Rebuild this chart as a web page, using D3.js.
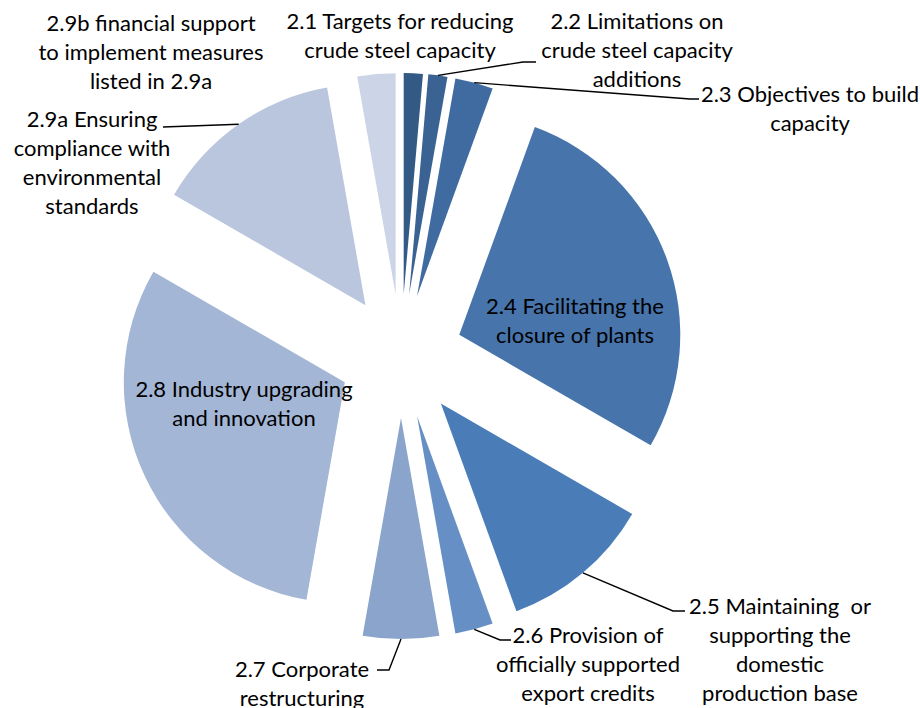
<!DOCTYPE html>
<html>
<head>
<meta charset="utf-8">
<script src="https://cdn.jsdelivr.net/npm/d3@7"></script>
<style>
  body { margin: 0; background: #fff; }
  svg text { font-family: Lato, "Open Sans", sans-serif; fill: #000; }
</style>
</head>
<body>
<div id="chart"></div>
<script>
// data: number of measures per category
var categories = ["2.1", "2.2", "2.3", "2.4", "2.5", "2.6", "2.7", "2.8", "2.9a", "2.9b"];
var counts = [1, 1, 2, 20, 8, 2, 4, 22, 10, 2];
var labelLines = [
    ["2.1 Targets for reducing", "crude steel capacity"],
    ["2.2 Limitations on", "crude steel capacity", "additions"],
    ["2.3 Objectives to build", "capacity"],
    ["2.4 Facilitating the", "closure of plants"],
    ["2.5 Maintaining  or", "supporting the", "domestic", "production base"],
    ["2.6 Provision of", "officially supported", "export credits"],
    ["2.7 Corporate", "restructuring"],
    ["2.8 Industry upgrading", "and innovation"],
    ["2.9a Ensuring", "compliance with", "environmental", "standards"],
    ["2.9b financial support", "to implement measures", "listed in 2.9a"]
];
var colors = ["#335a85", "#3a6293", "#3f6ba1", "#4674ab", "#4a7db8",
              "#6690c5", "#8aa4cc", "#a3b6d6", "#b9c6de", "#ccd5e7"];

// layout of the labels: text centre, and leader elbow/end (null = no leader)
var labelPos = [
    { x: 400, y: 20 },
    { x: 637, y: 20, elbow: [523, 62], end: [536, 62] },
    { x: 810, y: 93, elbow: [690, 99], end: [699, 99] },
    { x: 575, y: 305 },
    { x: 780, y: 605, elbow: [673, 611], end: [685, 611] },
    { x: 588, y: 634, elbow: [500, 640], end: [511, 640] },
    { x: 302, y: 668, elbow: [389, 670], end: [377, 670] },
    { x: 244, y: 388 },
    { x: 92, y: 118, elbow: [163, 127], end: [163, 127] },
    { x: 151, y: 22 }
];

var width = 920,
    height = 708;
var cx = 401, cy = 356;
var radius = 221;
var explode = 62;
var lineHeight = 29;

var svg = d3.select("#chart")
    .append("svg")
    .attr("width", width)
    .attr("height", height);

var data = categories.map(function (c, i) { return { key: c, value: counts[i], i: i }; });

var pie = d3.pie()
    .sort(null)
    .value(function (d) { return d.value; });
var data_ready = pie(data);

var arcGenerator = d3.arc()
    .innerRadius(0)
    .outerRadius(radius);

// offset of each exploded slice along its bisector
function offset(d) {
    var a = (d.startAngle + d.endAngle) / 2;
    return [explode * Math.sin(a), -explode * Math.cos(a)];
}

var g = svg.append("g")
    .attr("transform", "translate(" + cx + "," + cy + ")");

g.selectAll("path.slice")
    .data(data_ready)
    .enter()
    .append("path")
    .attr("class", "slice")
    .attr("d", arcGenerator)
    .attr("transform", function (d) { return "translate(" + offset(d) + ")"; })
    .attr("fill", function (d) { return colors[d.data.i]; });

// leader lines from the middle of each outer arc
var withLeader = data_ready.filter(function (d) { return labelPos[d.data.i].elbow; });
svg.selectAll("path.leader")
    .data(withLeader)
    .enter()
    .append("path")
    .attr("class", "leader")
    .attr("d", function (d) {
        var a = (d.startAngle + d.endAngle) / 2;
        var o = offset(d);
        var sx = cx + o[0] + radius * Math.sin(a);
        var sy = cy + o[1] - radius * Math.cos(a);
        var p = labelPos[d.data.i];
        return "M" + sx + "," + sy + "L" + p.elbow[0] + "," + p.elbow[1] + "L" + p.end[0] + "," + p.end[1];
    })
    .attr("fill", "none")
    .attr("stroke", "#000")
    .attr("stroke-width", 1.4);

// labels
var labels = svg.selectAll("text.label")
    .data(data_ready)
    .enter()
    .append("text")
    .attr("class", "label")
    .attr("text-anchor", "middle")
    .style("font-size", "22px");

labels.selectAll("tspan")
    .data(function (d) {
        var p = labelPos[d.data.i];
        return labelLines[d.data.i].map(function (t, k) { return { t: t, x: p.x, y: p.y + k * lineHeight }; });
    })
    .enter()
    .append("tspan")
    .attr("x", function (d) { return d.x; })
    .attr("y", function (d) { return d.y; })
    .attr("dominant-baseline", "central")
    .style("white-space", "pre")
    .text(function (d) { return d.t; });
</script>
</body>
</html>
